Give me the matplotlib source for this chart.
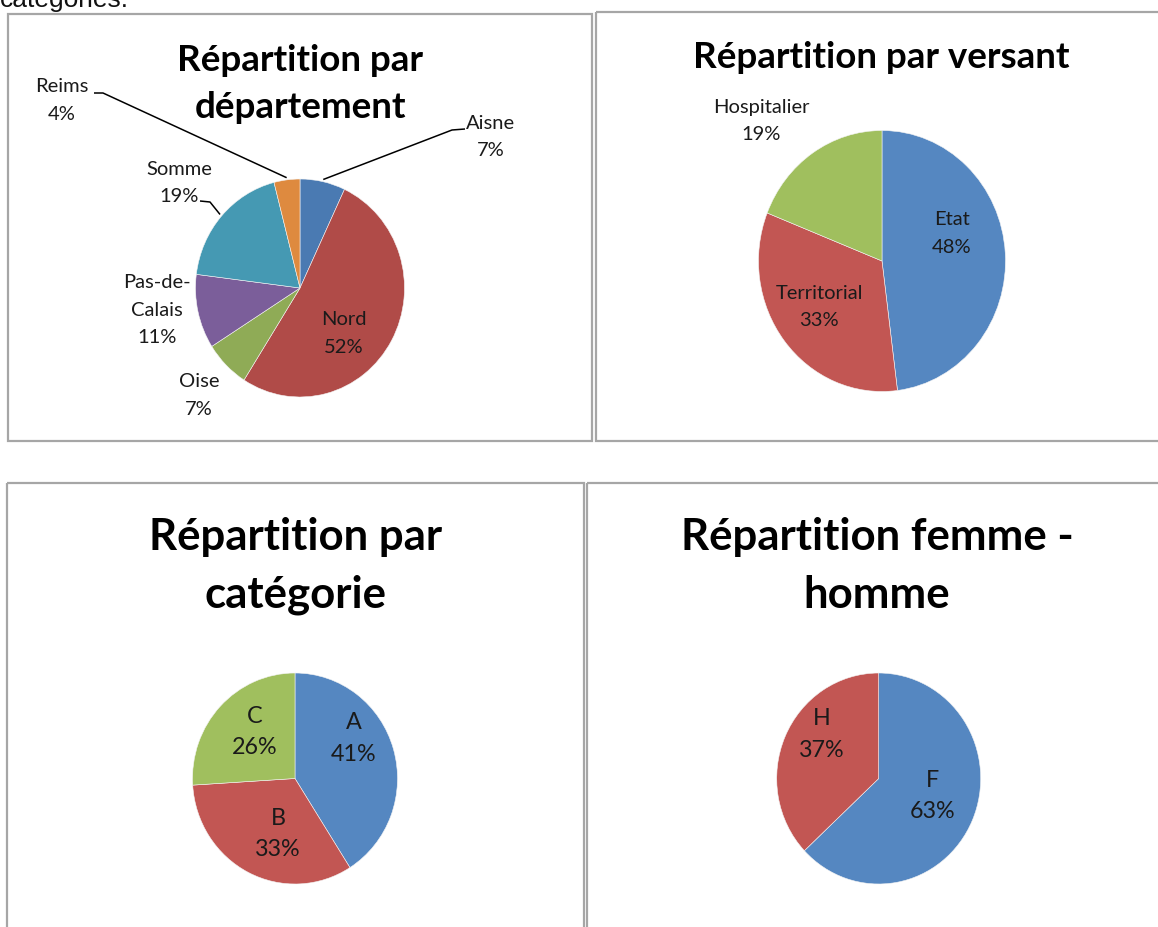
import numpy as np
import matplotlib.pyplot as plt
from matplotlib.patches import Rectangle

W, H = 1158, 927

# data
dept_labels = ["Aisne", "Nord", "Oise", "Pas-de-\nCalais", "Somme", "Reims"]
dept_values = [7, 52, 7, 11, 19, 4]

versant_labels = ["Etat", "Territorial", "Hospitalier"]
versant_values = [48, 33, 19]

cat_labels = ["A", "B", "C"]
cat_values = [41, 33, 26]

sexe_labels = ["F", "H"]
sexe_values = [63, 37]

# colours
DEPT_COLORS = ["#4a7ab2", "#b04b48", "#8fab56", "#7b5e9a", "#4599b3", "#de8a3f"]
BASE_COLORS = ["#5587c1", "#c25653", "#a0bf5e"]

TITLE_FONT = "Lato"
LABEL_FONT = "Lato"
BORDER = "#a6a6a6"


def fig_rect(x, y, w, h):
    # pixel box (top-left origin) -> figure fraction
    return [x / W, 1 - (y + h) / H, w / W, h / H]


def draw_pie(fig, values, colors, cx, cy, rx, ry):
    ax = fig.add_axes(fig_rect(cx - rx, cy - ry, 2 * rx, 2 * ry))
    wedges, _ = ax.pie(values, colors=colors, startangle=90, counterclock=False,
                       radius=1, wedgeprops=dict(linewidth=0.4, edgecolor="#f4f4f4"))
    ax.set_xlim(-1, 1)
    ax.set_ylim(-1, 1)
    ax.set_aspect("auto")
    ax.axis("off")
    return wedges


def edge_point(wedge, cx, cy, rx, ry, k=1.02):
    m = np.deg2rad((wedge.theta1 + wedge.theta2) / 2)
    return cx + rx * k * np.cos(m), cy - ry * k * np.sin(m)


def main():
    fig = plt.figure(figsize=(W / 100, H / 100), dpi=100)

    # pies
    w_dept = draw_pie(fig, dept_values, DEPT_COLORS, 300, 288, 104.5, 109)
    w_vers = draw_pie(fig, versant_values, BASE_COLORS, 882, 261, 123.5, 130.5)
    w_cat = draw_pie(fig, cat_values, BASE_COLORS, 295, 778.5, 102.5, 105.5)
    w_sexe = draw_pie(fig, sexe_values, BASE_COLORS[:2], 878.7, 778.5, 102, 105.5)

    # overlay in pixel coordinates for borders, titles, labels
    ov = fig.add_axes([0, 0, 1, 1], zorder=10)
    ov.set_xlim(0, W)
    ov.set_ylim(H, 0)
    ov.patch.set_alpha(0)
    ov.axis("off")

    for (x0, y0, x1, y1) in [(7.5, 13.5, 592, 441), (595.5, 11.5, 1170, 441),
                             (7, 483, 583.5, 940), (586.5, 483, 1170, 940)]:
        ov.add_patch(Rectangle((x0, y0), x1 - x0, y1 - y0, fill=False,
                               edgecolor=BORDER, linewidth=1.6, clip_on=False))

    # text cut off at the top of the page (as in the scan)
    ov.text(0, 7, "catégories.", fontsize=19, family="Liberation Sans",
            ha="left", va="baseline", color="#111111")

    def title(x, y, s, size, spacing):
        ov.text(x, y, s, fontsize=size, fontweight="bold", family=TITLE_FONT,
                ha="center", va="center", linespacing=spacing, color="black")

    title(300, 84, "Répartition par\ndépartement", 26.5, 1.55)
    title(881.5, 57, "Répartition par versant", 26.5, 1.55)
    title(296, 566, "Répartition par\ncatégorie", 31.5, 1.55)
    title(877, 566, "Répartition femme -\nhomme", 31.5, 1.55)

    def labels(names, values, positions, size, spacing):
        for name, val, (x, y) in zip(names, values, positions):
            ov.text(x, y, f"{name}\n{val}%", fontsize=size, family=LABEL_FONT,
                    ha="center", va="center", linespacing=spacing, color="#1a1a1a")

    labels(dept_labels, dept_values,
           [(491, 137), (344, 333.5), (199, 395.5), (157, 310), (179, 183), (62, 100.5)],
           14.5, 1.72)
    labels(versant_labels, versant_values,
           [(951.5, 233.5), (819, 307), (761, 121)], 14.5, 1.72)
    labels(cat_labels, cat_values, [(354, 738.5), (278, 834), (255, 732)], 16.8, 1.62)
    labels(sexe_labels, sexe_values, [(933, 796), (822, 734.5)], 16.8, 1.62)

    # leader lines for the small slices
    leaders = {0: [(465, 129), (452, 130)],   # Aisne
               4: [(200, 201), (210, 202)],   # Somme
               5: [(94, 93), (103, 93)]}      # Reims
    for i, pts in leaders.items():
        ex, ey = edge_point(w_dept[i], 300, 288, 104.5, 109)
        xs = [p[0] for p in pts] + [ex]
        ys = [p[1] for p in pts] + [ey]
        ov.plot(xs, ys, color="black", linewidth=1.1, solid_capstyle="butt")

    fig.savefig("out.png", dpi=100)


if __name__ == "__main__":
    main()
